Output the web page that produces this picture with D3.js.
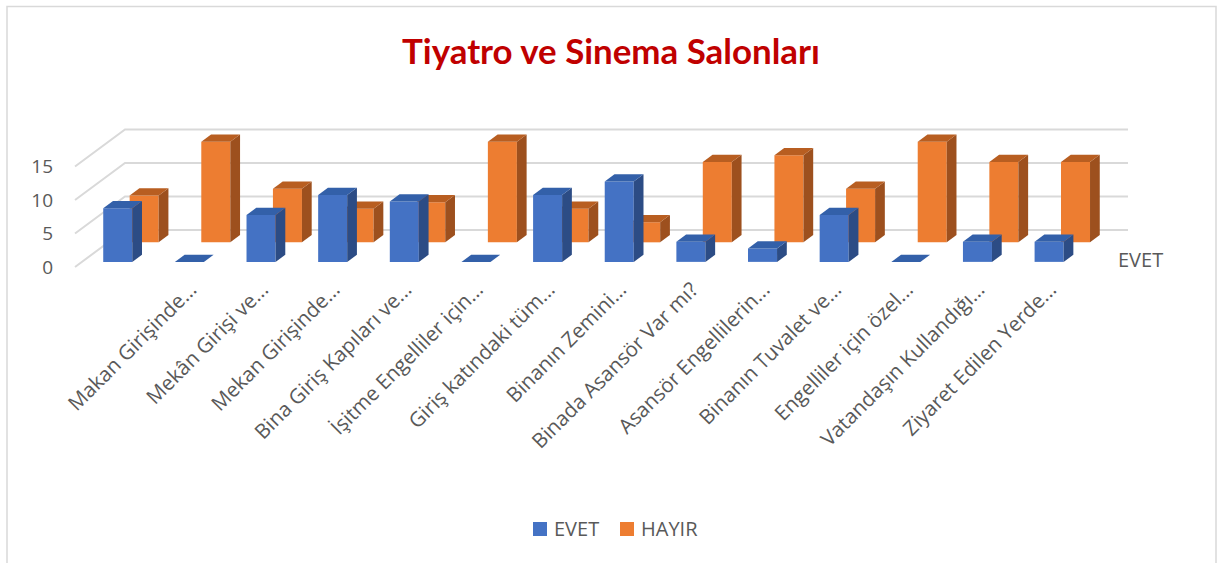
<!DOCTYPE html>
<html><head><meta charset="utf-8">
<script src="https://cdn.jsdelivr.net/npm/d3@7"></script>
<style>body{margin:0;background:#fff;}svg{display:block;}</style>
</head><body>
<svg id="chart" width="1217" height="563"></svg>
<script>
// ---- data ----
const categories = ["Makan Girişinde...","Mekân Girişi ve...","Mekan Girişinde...","Bina Giriş Kapıları ve...","İşitme Engelliler için...","Giriş katındaki tüm...","Binanın Zemini...","Binada Asansör Var mı?","Asansör Engellilerin...","Binanın Tuvalet ve...","Engelliler için özel...","Vatandaşın Kullandığı...","Ziyaret Edilen Yerde...",""];
const evet  = [8,0,7,10,9,0,10,12,3,2,7,0,3,3];
const hayir = [7,15,8,5,6,15,5,3,12,13,8,15,12,12];
const seriesNames = ["EVET","HAYIR"];
const yTicks = [0,5,10,15];
const title = "Tiyatro ve Sinema Salonları";
</script>
<script>
const svg = d3.select("#chart");
const FONT = "Lato, 'Open Sans', sans-serif";
const LFONT = "'Open Sans', Lato, sans-serif";
const GRAY = "#595959";
const GRID = "#d9d9d9";

// frame
svg.append("rect").attr("x",7).attr("y",6.5).attr("width",1209).attr("height",620)
  .attr("fill","#fff").attr("stroke",GRID).attr("stroke-width",1.5);

// scales
const x = d3.scaleBand().domain(d3.range(categories.length)).range([75,1078])
  .paddingInner(0.595).paddingOuter(0.2975);
const y = d3.scaleLinear().domain([0,15]).range([0,100.5]);
const depth = d3.scaleBand().domain(seriesNames).range([0,1]).paddingInner(0.631).paddingOuter(0.262);
const Y0 = 267, DX = 50, DY = 37;
const P = (px, v, d) => [px + d*DX, Y0 - y(v) - d*DY];

// gridlines (left wall + back wall)
const g = svg.append("g");
yTicks.forEach(t => {
  const pts = [P(75,t,0), P(75,t,1), P(1078,t,1)];
  g.append("polyline").attr("points", pts.map(p=>p.join(",")).join(" "))
    .attr("fill","none").attr("stroke",GRID).attr("stroke-width",2);
});
// y tick labels
svg.append("g").selectAll("text").data(yTicks).join("text")
  .attr("x",53).attr("y",d=>P(75,d,0)[1]).attr("dy","0.35em")
  .attr("text-anchor","end").attr("font-family",LFONT).attr("font-size",19)
  .attr("fill",GRAY).text(d=>d);

// bars
const colors = {
  EVET:  {front:"#4472C4", side:"#2C4C85", top:"#3360A9"},
  HAYIR: {front:"#ED7D31", side:"#9D501E", top:"#B85E21"}
};
const seriesData = [["HAYIR", hayir], ["EVET", evet]]; // back row first
const poly = pts => pts.map(p=>p.join(",")).join(" ");
seriesData.forEach(([name, vals]) => {
  const d0 = depth(name), d1 = d0 + depth.bandwidth();
  const c = colors[name];
  const gs = svg.append("g");
  vals.forEach((v,i) => {
    const x0 = x(i), x1 = x(i) + x.bandwidth();
    if (v > 0) {
      gs.append("polygon").attr("points", poly([P(x0,0,d0),P(x1,0,d0),P(x1,v,d0),P(x0,v,d0)]))
        .attr("fill", c.front);
      gs.append("polygon").attr("points", poly([P(x1,0,d0),P(x1,0,d1),P(x1,v,d1),P(x1,v,d0)]))
        .attr("fill", c.side);
    }
    gs.append("polygon").attr("points", poly([P(x0,v,d0),P(x1,v,d0),P(x1,v,d1),P(x0,v,d1)]))
      .attr("fill", c.top);
  });
});

// category labels
svg.append("g").selectAll("text").data(categories).join("text")
  .attr("transform",(d,i)=>`translate(${x(i)+x.bandwidth()/2+87},291) rotate(-45)`)
  .attr("text-anchor","end").attr("font-family",LFONT).attr("font-size",20.5)
  .attr("fill",GRAY).text(d=>d);

// series (depth) axis label
svg.append("text").attr("x",1118).attr("y",267).attr("font-family",LFONT)
  .attr("font-size",20).attr("fill",GRAY).text(seriesNames[0]);

// title
const tt = svg.append("text").attr("x",611).attr("y",64).attr("text-anchor","middle")
  .attr("font-family",FONT).attr("font-weight","bold").attr("font-size",30)
  .attr("fill","#C00000").text(title);
const tw = tt.node().getComputedTextLength();
tt.attr("font-size", 30*418/tw);

// legend
const leg = svg.append("g");
const legX = [533, 620];
seriesNames.forEach((s,i)=>{
  leg.append("rect").attr("x",legX[i]).attr("y",522).attr("width",14).attr("height",14)
    .attr("fill", colors[s].front);
  leg.append("text").attr("x",legX[i]+21).attr("y",536).attr("font-family",LFONT)
    .attr("font-size",20).attr("fill",GRAY).text(s);
});
</script>
</body></html>
